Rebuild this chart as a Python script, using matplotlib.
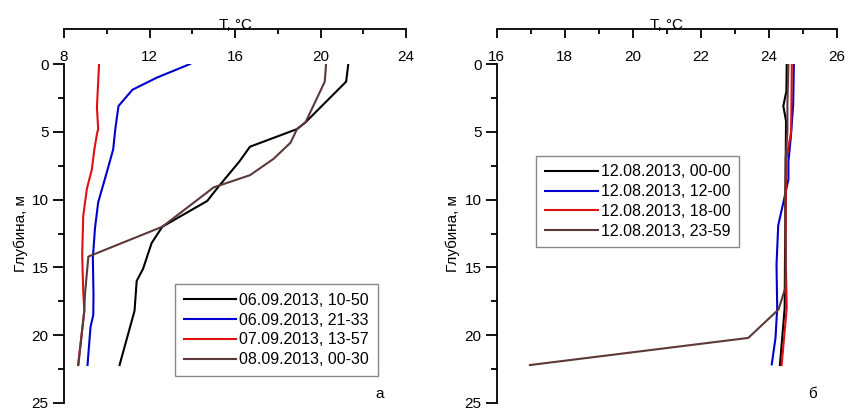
import matplotlib
matplotlib.use('Agg')
import matplotlib.pyplot as plt
from matplotlib.ticker import MultipleLocator

plt.rcParams['font.family'] = ['Liberation Sans', 'DejaVu Sans']

# --- panel a: 06.09 - 08.09.2013 ---
a_labels = ['06.09.2013, 10-50', '06.09.2013, 21-33', '07.09.2013, 13-57', '08.09.2013, 00-30']

a_black_d = [0, 1.3, 4.3, 4.8, 6.1, 7.2, 9.1, 10.1, 12.0, 13.2, 15.1, 16.0, 18.2, 22.2]
a_black_t = [21.3, 21.2, 19.3, 18.9, 16.7, 16.2, 15.2, 14.7, 12.6, 12.1, 11.7, 11.4, 11.3, 10.6]

a_blue_d = [0, 1.0, 1.9, 3.1, 4.8, 6.3, 8.0, 10.2, 12.1, 14.3, 17.0, 18.5, 19.4, 22.2]
a_blue_t = [13.9, 12.35, 11.2, 10.55, 10.4, 10.3, 10.0, 9.6, 9.45, 9.35, 9.38, 9.37, 9.24, 9.1]

a_red_d = [0, 3.2, 4.8, 5.1, 6.3, 7.8, 9.2, 11.2, 14.1, 16.8, 18.2, 22.2]
a_red_t = [9.64, 9.54, 9.6, 9.55, 9.42, 9.3, 9.07, 8.9, 8.85, 8.9, 8.95, 8.66]

a_brown_d = [0, 1.3, 4.3, 4.8, 5.8, 7.0, 8.2, 9.1, 12.0, 14.2, 17.0, 18.2, 22.2]
a_brown_t = [20.26, 20.2, 19.3, 18.9, 18.6, 17.8, 16.7, 15.0, 12.6, 9.14, 8.98, 8.95, 8.67]

# --- panel b: 12.08.2013 ---
b_labels = ['12.08.2013, 00-00', '12.08.2013, 12-00', '12.08.2013, 18-00', '12.08.2013, 23-59']

b_black_d = [0, 2.0, 3.1, 4.2, 7.0, 10, 14, 18, 22.2]
b_black_t = [24.53, 24.52, 24.43, 24.51, 24.5, 24.5, 24.48, 24.47, 24.33]

b_blue_d = [0, 3, 5.4, 7.2, 8.5, 10, 11.9, 14.8, 18, 20.2, 22.15]
b_blue_t = [24.74, 24.72, 24.65, 24.58, 24.58, 24.45, 24.28, 24.23, 24.25, 24.2, 24.09]

b_red_d = [0, 5, 7.0, 10, 14, 18, 22.2]
b_red_t = [24.68, 24.66, 24.52, 24.5, 24.5, 24.53, 24.38]

b_brown_d = [0, 3, 5, 7, 10, 14, 16.5, 18.1, 20.2, 22.2]
b_brown_t = [24.58, 24.55, 24.55, 24.5, 24.48, 24.5, 24.49, 24.29, 23.40, 16.98]

colors = ['#000000', '#0000cc', '#e01010', '#5c3838']


def setup(ax, xlim, xmajor, xminor):
	ax.set_xlim(*xlim)
	ax.set_ylim(25, 0)
	ax.spines['right'].set_visible(False)
	ax.spines['bottom'].set_visible(False)
	ax.spines['top'].set_position(('outward', 25))
	for s in ['top', 'left']:
		ax.spines[s].set_linewidth(1.3)
	ax.xaxis.set_ticks_position('top')
	ax.xaxis.set_label_position('top')
	ax.xaxis.set_major_locator(MultipleLocator(xmajor))
	ax.xaxis.set_minor_locator(MultipleLocator(xminor))
	ax.yaxis.set_major_locator(MultipleLocator(5))
	ax.yaxis.set_minor_locator(MultipleLocator(2.5))
	ax.tick_params(axis='x', which='both', direction='in', width=1.3, labelsize=11, pad=-25)
	ax.tick_params(axis='x', which='major', length=6.5)
	ax.tick_params(axis='x', which='minor', length=3.5)
	ax.tick_params(axis='y', which='both', direction='out', width=1.3, labelsize=11, pad=3)
	ax.tick_params(axis='y', which='major', length=8)
	ax.tick_params(axis='y', which='minor', length=4.5)
	ax.set_xlabel('T, °C', fontsize=11, labelpad=0)
	ax.set_ylabel('Глубина, м', fontsize=11, labelpad=3)


fig = plt.figure(figsize=(8.46, 4.12), dpi=100)

ax1 = fig.add_axes([64/846, 9/412, 342/846, 339/412])
setup(ax1, (8, 24), 4, 2)
ax1.plot(a_black_t, a_black_d, color=colors[0], lw=1.5, label=a_labels[0])
ax1.plot(a_blue_t, a_blue_d, color=colors[1], lw=1.5, label=a_labels[1])
ax1.plot(a_red_t, a_red_d, color=colors[2], lw=1.5, label=a_labels[2])
ax1.plot(a_brown_t, a_brown_d, color=colors[3], lw=1.5, label=a_labels[3])
ax1.legend(loc='lower right', bbox_to_anchor=(0.918, 0.08), fontsize=11.5,
	fancybox=False, edgecolor='#888888', framealpha=1, handlelength=3.3,
	labelspacing=0.3, borderpad=0.55, handletextpad=0.2, borderaxespad=0)
ax1.text(0.924, 0.028, 'а', transform=ax1.transAxes, fontsize=11, ha='center', va='center')

ax2 = fig.add_axes([496.7/846, 9/412, 340/846, 339/412])
setup(ax2, (16, 26), 2, 1)
ax2.plot(b_black_t, b_black_d, color=colors[0], lw=1.5, label=b_labels[0])
ax2.plot(b_blue_t, b_blue_d, color=colors[1], lw=1.5, label=b_labels[1])
ax2.plot(b_red_t, b_red_d, color=colors[2], lw=1.5, label=b_labels[2])
ax2.plot(b_brown_t, b_brown_d, color=colors[3], lw=1.5, label=b_labels[3])
ax2.legend(loc='upper left', bbox_to_anchor=(0.116, 0.73), fontsize=11.5,
	fancybox=False, edgecolor='#888888', framealpha=1, handlelength=3.3,
	labelspacing=0.3, borderpad=0.55, handletextpad=0.2, borderaxespad=0)
ax2.text(0.93, 0.028, 'б', transform=ax2.transAxes, fontsize=11, ha='center', va='center')

fig.savefig('out.png', dpi=100)
